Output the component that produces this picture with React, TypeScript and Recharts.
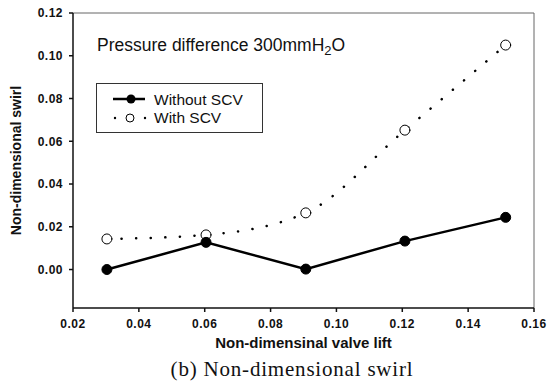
import { LineChart, Line, XAxis, YAxis, ReferenceLine, Label } from "recharts";

const liftValues = [0.0303, 0.0604, 0.0907, 0.1208, 0.1514];
const withoutScv = [0.0, 0.0127, 0.0002, 0.0133, 0.0244];
const withScv = [0.0143, 0.0162, 0.0265, 0.0652, 0.105];
const xTicks = [0.02, 0.04, 0.06, 0.08, 0.1, 0.12, 0.14, 0.16];
const yTicks = [0.0, 0.02, 0.04, 0.06, 0.08, 0.1, 0.12];

const rows = liftValues.map((lift, i) => ({ lift, without: withoutScv[i], with: withScv[i] }));

const font = "'Liberation Sans', Arial, sans-serif";
const tickStyle = { fontSize: 12, fill: "#111", fontFamily: font, fontWeight: 600, letterSpacing: 0.5 };

function LegendBox() {
  return (
    <div
      style={{
        position: "absolute",
        left: 96,
        top: 83,
        width: 167,
        height: 50,
        border: "1px solid #333",
        background: "#fff",
        boxSizing: "border-box",
      }}
    >
      <svg width={165} height={48} style={{ display: "block" }}>
        <line x1={16} y1={15} x2={48} y2={15} stroke="#000" strokeWidth={2.5} />
        <circle cx={34} cy={15} r={4.5} fill="#000" />
        <text x={57} y={21} fontFamily={font} fontSize={15.5} fill="#111">Without SCV</text>
        <circle cx={18} cy={34} r={1.2} fill="#000" />
        <circle cx={33} cy={34} r={4} fill="#fff" stroke="#000" strokeWidth={1} />
        <circle cx={48} cy={34} r={1.2} fill="#000" />
        <text x={57} y={39} fontFamily={font} fontSize={15.5} fill="#111">With SCV</text>
      </svg>
    </div>
  );
}

export default function App() {
  return (
    <div style={{ position: "absolute", left: 0, top: 0, width: 554, height: 382, background: "#fff" }}>
      <LineChart width={554} height={382} data={rows} margin={{ top: 13, right: 20, left: 0, bottom: 0 }}>
        <XAxis
          dataKey="lift"
          type="number"
          domain={[0.02, 0.16]}
          ticks={xTicks}
          tickFormatter={(v: number) => v.toFixed(2)}
          tick={tickStyle}
          tickSize={4}
          tickMargin={7}
          height={74}
          stroke="#111"
          strokeWidth={1.5}
        >
          <Label value="Non-dimensinal valve lift" position="insideTop" offset={29} dx={0} style={{ fontSize: 15, fill: "#111", fontFamily: font, fontWeight: 600 }} />
        </XAxis>
        <YAxis
          type="number"
          domain={[-0.018, 0.12]}
          ticks={yTicks}
          tickFormatter={(v: number) => v.toFixed(2)}
          tick={tickStyle}
          tickSize={4}
          tickMargin={6}
          width={73}
          stroke="#111"
          strokeWidth={1.5}
          allowDataOverflow
        >
          <Label value="Non-dimensional swirl" angle={-90} position="insideLeft" offset={16} style={{ fontSize: 14, fill: "#111", fontFamily: font, fontWeight: 600, textAnchor: "middle" }} />
        </YAxis>
        <ReferenceLine y={0.12} stroke="#666" strokeWidth={1} />
        <ReferenceLine x={0.16} stroke="#666" strokeWidth={1} />
        <Line
          dataKey="with"
          name="With SCV"
          type="monotone"
          stroke="#000"
          strokeWidth={2.5}
          strokeDasharray="0.1 14.5"
          strokeLinecap="round"
          dot={{ r: 5, fill: "#fff", stroke: "#000", strokeWidth: 1, strokeDasharray: "" }}
          isAnimationActive={false}
        />
        <Line
          dataKey="without"
          name="Without SCV"
          type="linear"
          stroke="#000"
          strokeWidth={2.5}
          dot={{ r: 5, fill: "#000", stroke: "#000", strokeWidth: 1 }}
          isAnimationActive={false}
        />
      </LineChart>
      <LegendBox />
      <div style={{ position: "absolute", left: 97, top: 35, fontFamily: font, fontSize: 17.5, color: "#111" }}>
        Pressure difference 300mmH<sub style={{ fontSize: 13, verticalAlign: -4 }}>2</sub>O
      </div>
      <div style={{ position: "absolute", left: 0, width: 584, top: 357, textAlign: "center", fontFamily: "'Liberation Serif', 'Times New Roman', serif", fontSize: 21, letterSpacing: 0.8, color: "#111" }}>
        (b) Non-dimensional swirl
      </div>
    </div>
  );
}
